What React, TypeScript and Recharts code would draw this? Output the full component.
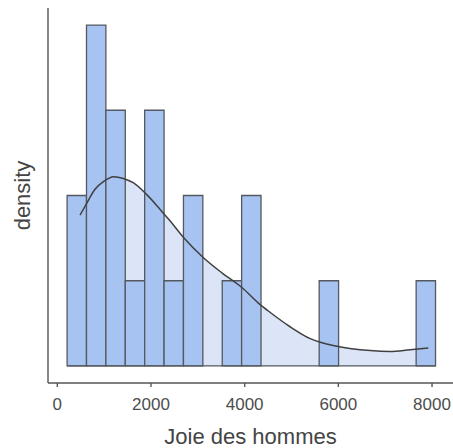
import {
  ComposedChart,
  Area,
  Line,
  XAxis,
  YAxis,
  ReferenceArea,
  ReferenceLine,
} from "recharts";

// histogram bins (lower edge of each bin, all bins the same width)
const binStarts = [
  209, 623, 1037, 1451, 1865, 2279, 2693, 3107, 3521, 3935,
  4349, 4763, 5177, 5591, 6005, 6419, 6833, 7247, 7661,
];
const binWidth = 414;
const binCounts = [2, 4, 3, 1, 3, 1, 2, 0, 1, 2, 0, 0, 0, 1, 0, 0, 0, 0, 1];

// density curve, scaled to the count axis
const densityX = [
  485, 630, 800, 980, 1200, 1410, 1620, 1910, 2190, 2410, 2690, 3120,
  3520, 3940, 4330, 4540, 4970, 5400, 5970, 6680, 7100, 7530, 7920,
];
const densityY = [
  1.77, 1.91, 2.07, 2.16, 2.22, 2.2, 2.15, 2.01, 1.84, 1.7, 1.51, 1.27,
  1.09, 0.92, 0.72, 0.63, 0.46, 0.32, 0.23, 0.18, 0.17, 0.19, 0.21,
];

const xTicks = [0, 2000, 4000, 6000, 8000];

const BAR_FILL = "#a7c3f1";
const BAR_STROKE = "#55585e";
const DENSITY_FILL = "#dbe5f7";
const AXIS = "#555555";
const FONT = "'Liberation Sans', Arial, sans-serif";

const chartData = densityX.map((x, i) => ({ x, density: densityY[i] }));

export default function App() {
  const lastEdge = binStarts[binStarts.length - 1] + binWidth;
  return (
    <div style={{ position: "absolute", left: 0, top: 0, fontFamily: FONT }}>
      <ComposedChart
        width={453}
        height={448}
        data={chartData}
        margin={{ top: 8, right: 0, bottom: 0, left: 0 }}
      >
        <XAxis
          dataKey="x"
          type="number"
          domain={[-199, 8448]}
          allowDataOverflow
          ticks={xTicks}
          height={65}
          tickSize={4}
          tickMargin={11}
          stroke={AXIS}
          strokeWidth={1.4}
          tick={{ fill: "#4d4d4d", fontSize: 17, fontFamily: FONT }}
          label={{
            value: "Joie des hommes",
            position: "insideBottom",
            offset: 4,
            fill: "#444",
            fontSize: 22,
            fontFamily: FONT,
          }}
        />
        <YAxis
          type="number"
          domain={[-0.2, 4.2]}
          allowDataOverflow
          width={48}
          tick={false}
          tickLine={false}
          stroke={AXIS}
          strokeWidth={1.4}
          label={{
            value: "density",
            angle: -90,
            position: "center",
            dx: -2,
            fill: "#444",
            fontSize: 22,
            fontFamily: FONT,
          }}
        />
        <Area
          type="monotone"
          dataKey="density"
          baseValue={0}
          fill={DENSITY_FILL}
          fillOpacity={1}
          stroke="none"
          isAnimationActive={false}
        />
        <ReferenceLine
          segment={[
            { x: binStarts[0], y: 0 },
            { x: lastEdge, y: 0 },
          ]}
          stroke={BAR_STROKE}
          strokeWidth={1.3}
        />
        {binStarts.map((start, i) => (
          <ReferenceArea
            key={start}
            x1={start}
            x2={start + binWidth}
            y1={0}
            y2={binCounts[i]}
            fill={BAR_FILL}
            fillOpacity={1}
            stroke={BAR_STROKE}
            strokeWidth={1.3}
            strokeOpacity={1}
          />
        ))}
        <Line
          type="monotone"
          dataKey="density"
          stroke="#404040"
          strokeWidth={1.5}
          dot={false}
          isAnimationActive={false}
        />
      </ComposedChart>
    </div>
  );
}
